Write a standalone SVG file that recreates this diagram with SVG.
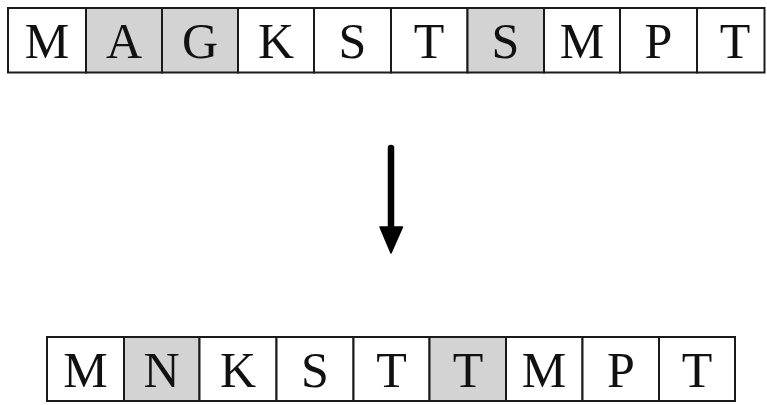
<svg xmlns="http://www.w3.org/2000/svg" width="767" height="405" viewBox="0 0 767 405">
<style>
.c{fill:#ffffff;stroke:#1a1a1a;stroke-width:2}
.g{fill:#d3d3d3;stroke:#1a1a1a;stroke-width:2}
.t{font-family:"Liberation Serif","DejaVu Serif",serif;font-size:50px;fill:#111;text-anchor:middle}
</style>
<rect width="767" height="405" fill="#ffffff"/>
<g id="top">
<g id="t1"><rect class="c" x="8" y="8" width="78" height="64.5"/><text class="t" x="47" y="57.5">M</text></g>
<g id="t2"><rect class="g" x="86" y="8" width="76" height="64.5"/><text class="t" x="124" y="57.5">A</text></g>
<g id="t3"><rect class="g" x="162" y="8" width="76" height="64.5"/><text class="t" x="200" y="57.5">G</text></g>
<g id="t4"><rect class="c" x="238" y="8" width="76" height="64.5"/><text class="t" x="276" y="57.5">K</text></g>
<g id="t5"><rect class="c" x="314" y="8" width="77" height="64.5"/><text class="t" x="352.5" y="57.5">S</text></g>
<g id="t6"><rect class="c" x="391" y="8" width="76.5" height="64.5"/><text class="t" x="429" y="57.5">T</text></g>
<g id="t7"><rect class="g" x="467.5" y="8" width="76.5" height="64.5"/><text class="t" x="505.5" y="57.5">S</text></g>
<g id="t8"><rect class="c" x="544" y="8" width="76" height="64.5"/><text class="t" x="582" y="57.5">M</text></g>
<g id="t9"><rect class="c" x="620" y="8" width="77" height="64.5"/><text class="t" x="658.5" y="57.5">P</text></g>
<g id="t10"><rect class="c" x="697" y="8" width="67.5" height="64.5"/><text class="t" x="735" y="57.5">T</text></g>
</g>
<g id="connectors">
<line x1="391" y1="148" x2="391" y2="230" stroke="#000" stroke-width="6.5" stroke-linecap="round"/>
<polygon points="380,227 402.5,227 391,253" fill="#000" stroke="#000" stroke-width="1.5" stroke-linejoin="round"/>
</g>
<g id="bottom">
<g id="b1"><rect class="c" x="47" y="337" width="77" height="64"/><text class="t" x="85.5" y="386.5">M</text></g>
<g id="b2"><rect class="g" x="124" y="337" width="75.5" height="64"/><text class="t" x="161.5" y="386.5">N</text></g>
<g id="b3"><rect class="c" x="199.5" y="337" width="77" height="64"/><text class="t" x="238" y="386.5">K</text></g>
<g id="b4"><rect class="c" x="276.5" y="337" width="77" height="64"/><text class="t" x="315" y="386.5">S</text></g>
<g id="b5"><rect class="c" x="353.5" y="337" width="76" height="64"/><text class="t" x="391.5" y="386.5">T</text></g>
<g id="b6"><rect class="g" x="429.5" y="337" width="76.5" height="64"/><text class="t" x="468" y="386.5">T</text></g>
<g id="b7"><rect class="c" x="506" y="337" width="76.5" height="64"/><text class="t" x="544" y="386.5">M</text></g>
<g id="b8"><rect class="c" x="582.5" y="337" width="76.5" height="64"/><text class="t" x="621" y="386.5">P</text></g>
<g id="b9"><rect class="c" x="659" y="337" width="76" height="64"/><text class="t" x="697" y="386.5">T</text></g>
</g>
</svg>
